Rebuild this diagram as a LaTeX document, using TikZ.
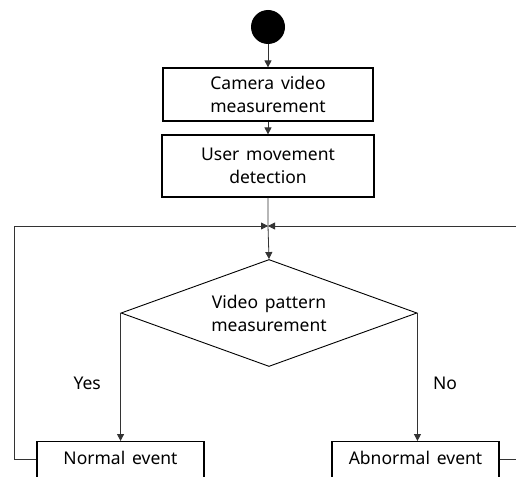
\documentclass[tikz,border=0pt]{standalone}
\usepackage{fontspec}
\setmainfont{Noto Sans}[WordSpace=1.5]
\usetikzlibrary{shapes.geometric,arrows.meta}
\begin{document}
\begin{tikzpicture}[x=1pt,y=-1pt,
  box/.style={draw=black,line width=1.2pt,minimum width=210pt,minimum height=53pt,align=center,font=\fontsize{17.5}{23}\selectfont,inner sep=0pt},
  evbox/.style={draw=black,line width=1.2pt,minimum width=167pt,minimum height=50pt,anchor=north,inner sep=0pt},
  conn/.style={draw=black!80,line width=0.8pt,-{Triangle[length=7pt,width=7pt]}},
  lab/.style={font=\fontsize{17.5}{20}\selectfont}]
\useasboundingbox[clip] (0,0) rectangle (516,476);
\fill[white] (0,0) rectangle (516,476);
\node[circle,fill=black,minimum size=34pt,inner sep=0pt] (start) at (268,27) {};
\node[box] (cam) at (268,94.5) {Camera video\\measurement};
\node[box,minimum width=212pt,minimum height=62pt] (user) at (268,166) {User movement\\detection};
\coordinate (j) at (268,226);
\node[diamond,draw=black,line width=0.9pt,minimum width=296pt,minimum height=107pt,inner sep=0pt,aspect=2.8,align=center,font=\fontsize{17.5}{23}\selectfont] (dec) at (269,313) {Video pattern\\measurement};
\node[evbox] (norm) at (120.5,441) {};
\node[lab] (normt) at (norm.north) [anchor=north,yshift=-7pt] {Normal event};
\node[evbox] (abn) at (415.5,441) {};
\node[lab] (abnt) at (abn.north) [anchor=north,yshift=-7pt] {Abnormal event};
\coordinate (ljoin) at (norm.north west |- 0,459);
\coordinate (rjoin) at (abn.north east |- 0,459);
\draw[conn] (start) -- (cam);
\draw[conn] (cam) -- (user);
\draw[conn] (user) -- (j) -- (dec.north);
\draw[conn] (dec.west) -- (dec.west |- norm.north) node[lab,pos=0.55,left=16pt] {Yes};
\draw[conn] (dec.east) -- (dec.east |- abn.north) node[lab,pos=0.55,right=12pt] {No};
\draw[conn] (ljoin) -- (14,459) -- (14,226) -- (j);
\draw[conn] (rjoin) -- (530,459) -- (530,226) -- (j);
\end{tikzpicture}
\end{document}
